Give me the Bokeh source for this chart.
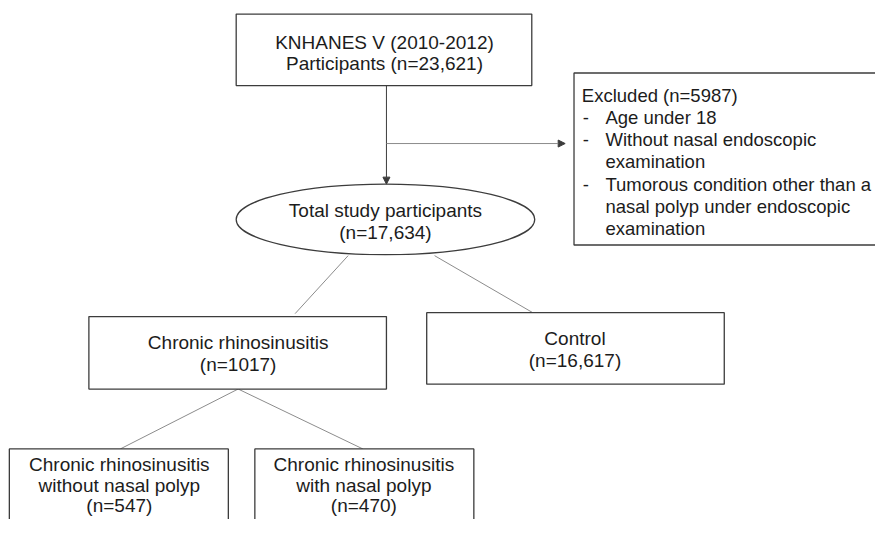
from bokeh.plotting import figure
from bokeh.models import Range1d, Arrow, NormalHead
from bokeh.embed import file_html
from bokeh.resources import INLINE
from bokeh.core.properties import value

# ---- content (texts and counts) ----
source_title = "KNHANES V (2010-2012)"
source_n = "23,621"
excluded_n = "5987"
excluded_reasons = [
    ["Age under 18"],
    ["Without nasal endoscopic", "examination"],
    ["Tumorous condition other than a", "nasal polyp under endoscopic", "examination"],
]
total_n = "17,634"
crs_n = "1017"
control_n = "16,617"
crs_without_np_n = "547"
crs_with_np_n = "470"

FONT = value("Liberation Sans")
FS = "19px"
FS_EX = "18.5px"
TXT = "#1c1c1c"
BOX = "#3c3c3c"
LINK = "#8c8c8c"

p = figure(width=875, height=519, output_backend="svg", toolbar_location=None,
           x_range=Range1d(3, 894), y_range=Range1d(537, 0),
           min_border=0, outline_line_color=None)
p.axis.visible = False
p.grid.visible = False

def box(l, r, t, b):
    p.quad(left=[l], right=[r], top=[t], bottom=[b], fill_color="white",
           line_color=BOX, line_width=1.3)

def center_lines(cx, ys, lines):
    p.text(x=[cx] * len(lines), y=ys, text=lines, text_font=FONT,
           text_font_size=FS, text_color=TXT, text_align="center",
           text_baseline="middle")

# connecting lines (grey)
p.segment(x0=[357, 445, 245, 245], y0=[264, 264, 402, 402],
          x1=[303, 545, 125, 372], y1=[324, 323, 464, 464],
          line_color=LINK, line_width=1)

# arrows
p.add_layout(Arrow(end=NormalHead(size=7, fill_color=BOX, line_color=BOX),
                   x_start=396, y_start=88, x_end=396, y_end=190,
                   line_color=BOX, line_width=1))
p.add_layout(Arrow(end=NormalHead(size=7, fill_color=BOX, line_color=BOX),
                   x_start=396, y_start=148, x_end=578, y_end=148,
                   line_color=LINK, line_width=1))

# top box
box(243, 544, 14, 88)
center_lines(394, [43, 65], [source_title, f"Participants (n={source_n})"])

# excluded box
box(587, 905, 75, 253)
ex_y = [98, 121, 144, 167, 190, 213, 236]
p.text(x=[595], y=[ex_y[0]], text=[f"Excluded (n={excluded_n})"], text_font=FONT,
       text_font_size=FS_EX, text_color=TXT, text_align="left", text_baseline="middle")
i = 1
for reason in excluded_reasons:
    p.text(x=[596], y=[ex_y[i]], text=["-"], text_font=FONT, text_font_size=FS_EX,
           text_color=TXT, text_align="left", text_baseline="middle")
    for ln in reason:
        p.text(x=[619], y=[ex_y[i]], text=[ln], text_font=FONT, text_font_size=FS_EX,
               text_color=TXT, text_align="left", text_baseline="middle")
        i += 1

# ellipse
p.ellipse(x=[395], y=[226.5], width=304, height=73, fill_color="white",
          line_color=BOX, line_width=1.3)
center_lines(395, [217, 240], ["Total study participants", f"(n={total_n})"])

# second level
box(93, 396, 327, 402)
center_lines(245, [354, 377], ["Chronic rhinosinusitis", f"(n={crs_n})"])
box(437, 740, 323, 397)
center_lines(588, [350, 372], ["Control", f"(n={control_n})"])

# third level
box(12, 235, 464, 550)
center_lines(124, [480, 502, 523], ["Chronic rhinosinusitis", "without nasal polyp", f"(n={crs_without_np_n})"])
box(262, 485, 464, 550)
center_lines(373, [480, 502, 523], ["Chronic rhinosinusitis", "with nasal polyp", f"(n={crs_with_np_n})"])

open("out.html", "w").write(file_html(p, INLINE))
